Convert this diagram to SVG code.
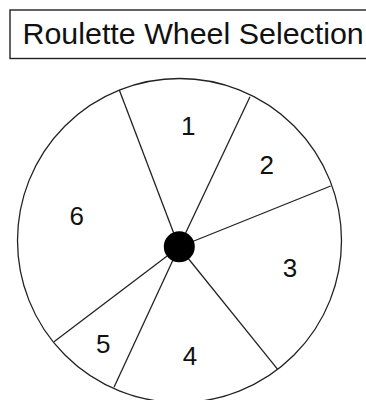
<svg xmlns="http://www.w3.org/2000/svg" width="366" height="400" viewBox="0 0 366 400">
<style>
.lbl{font-family:"Liberation Sans",Arial,sans-serif;font-size:26px;fill:#111;text-anchor:middle}
.spoke{stroke:#222;stroke-width:1.3;fill:none}
</style>
<rect width="366" height="400" fill="#fff"/>
<g id="title">
<rect x="10" y="10" width="370" height="48.5" fill="#fff" stroke="#222" stroke-width="1.4"/>
<text x="22.5" y="44" font-family="Liberation Sans, Arial, sans-serif" font-size="30.4" fill="#111">Roulette Wheel Selection</text>
</g>
<g id="wheel">
<circle cx="179.5" cy="240.5" r="162" fill="#fff" stroke="#222" stroke-width="1.3"/>
</g>
<g id="connectors">
<line class="spoke" x1="179" y1="247" x2="119.3" y2="90"/>
<line class="spoke" x1="179" y1="247" x2="250" y2="96.7"/>
<line class="spoke" x1="179" y1="247" x2="330.7" y2="186"/>
<line class="spoke" x1="179" y1="247" x2="277.7" y2="369.3"/>
<line class="spoke" x1="179" y1="247" x2="114" y2="387.3"/>
<line class="spoke" x1="179" y1="247" x2="54" y2="341.7"/>
</g>
<g id="hub"><circle cx="179.3" cy="246.7" r="15.5" fill="#000"/></g>
<g id="s1"><text class="lbl" x="188.3" y="135">1</text></g>
<g id="s2"><text class="lbl" x="266.7" y="174">2</text></g>
<g id="s3"><text class="lbl" x="290" y="277.3">3</text></g>
<g id="s4"><text class="lbl" x="190" y="365">4</text></g>
<g id="s5"><text class="lbl" x="103.3" y="353.3">5</text></g>
<g id="s6"><text class="lbl" x="76.7" y="225">6</text></g>
</svg>
